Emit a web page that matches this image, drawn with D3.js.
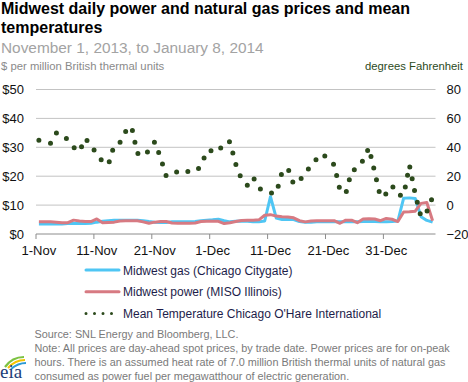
<!DOCTYPE html>
<html>
<head>
<meta charset="utf-8">
<script src="https://cdn.jsdelivr.net/npm/d3@7"></script>
<style>
  body { margin: 0; background: #fff; }
  text { font-family: "Liberation Sans", Arial, sans-serif; }
</style>
</head>
<body>
<script>
// daily values, Nov 1 2013 .. Jan 8 2014
const firstDay = new Date(2013, 10, 1);
const gas = [3.5, 3.5, 3.5, 3.5, 3.5, 3.6, 3.6, 3.6, 3.6, 3.7,
  4.1, 4.4, 4.6, 4.8, 4.8, 4.8, 4.8, 4.8, 4.6, 4.3,
  4.1, 4.0, 4.0, 4.2, 4.2, 4.2, 4.2, 4.3, 4.6, 4.8,
  4.9, 5.1, 4.6, 4.2, 4.4, 4.5, 4.4, 4.2, 4.2, 4.5,
  12.9, 5.5, 5.0, 5.0, 5.0, 4.3, 4.1, 4.1, 4.2, 4.2,
  4.2, 4.2, 4.2, 4.2, 4.2, 4.2, 4.3, 4.3, 4.3, 4.2,
  4.2, 4.3, 4.5, 12.4, 12.5, 12.3, 6.0, 4.7, 4.1];
const power = [4.2, 4.2, 4.2, 4.1, 3.9, 3.9, 4.8, 4.5, 4.3, 4.3,
  5.2, 3.9, 4.0, 4.1, 4.5, 4.6, 4.6, 4.6, 4.2, 3.7,
  4.1, 4.3, 4.3, 3.8, 3.7, 3.7, 3.7, 3.8, 4.3, 4.4,
  4.4, 4.4, 3.6, 3.9, 4.3, 4.7, 4.8, 4.8, 4.9, 6.5,
  6.7, 6.2, 6.0, 5.9, 5.6, 4.6, 4.2, 4.5, 4.6, 4.6,
  4.6, 4.6, 3.7, 4.8, 4.8, 3.9, 5.2, 5.3, 5.2, 4.6,
  5.4, 5.1, 4.3, 7.6, 7.7, 7.9, 10.6, 10.9, 4.6];
const temp = [44.8, 43.9, 42.8, 50.0, 49.1, 45.0, 40.0, 36.9, 46.2, 41.6,
  35.0, 30.3, 27.9, 41.4, 43.4, 51.0, 54.5, 35.9, 33.8, 37.8,
  43.8, 32.9, 20.0, 21.8, 23.3, 24.6, 22.8, 23.4, 26.9, 37.6,
  37.7, 36.8, 43.4, 43.8, 28.3, 17.9, 13.8, 19.3, 11.7, 9.3,
  8.3, 8.3, 22.8, 25.5, 14.5, 16.6, 22.6, 26.9, 32.1, 35.5,
  31.7, 27.9, 10.3, 7.9, 23.4, 25.5, 31.0, 39.7, 22.8, 5.5,
  7.9, 13.4, 6.9, 6.6, 27.6, 7.6, -8.3, -4.5, 5.5];
const priceTicks = [0, 10, 20, 30, 40, 50];
const tempTicks = [-20, 0, 20, 40, 60, 80];
const dateTicks = ["2013-11-01", "2013-11-11", "2013-11-21", "2013-12-01",
  "2013-12-11", "2013-12-21", "2013-12-31"];
const seriesNames = ["Midwest gas (Chicago Citygate)", "Midwest power (MISO Illinois)",
  "Mean Temperature Chicago O'Hare International"];

const W = 468, H = 382;
const plot = {left: 36, right: 435.5, top: 89.5, bottom: 234};
const gasColor = "#4fc6f4", powerColor = "#d77a82", tempColor = "#2c4a1c";

const svg = d3.select("body").append("svg")
  .attr("width", W).attr("height", H);

const days = gas.map((v, i) => d3.timeDay.offset(firstDay, i));
const mid = d => d3.timeHour.offset(d, 12);

const x = d3.scaleTime()
  .domain([firstDay, d3.timeDay.offset(firstDay, gas.length)])
  .range([plot.left, plot.right]);
const y = d3.scaleLinear().domain([0, 50]).range([plot.bottom, plot.top]);
const yT = d3.scaleLinear().domain([-20, 80]).range([plot.bottom, plot.top]);

// titles
svg.append("text").attr("x", 1).attr("y", 13.5)
  .style("font-size", "16px").style("font-weight", "bold").attr("fill", "#000")
  .text("Midwest daily power and natural gas prices and mean");
svg.append("text").attr("x", 1).attr("y", 32.5)
  .style("font-size", "16px").style("font-weight", "bold").attr("fill", "#000")
  .text("temperatures");
svg.append("text").attr("x", 1).attr("y", 52.5)
  .style("font-size", "15.4px").attr("fill", "#a3a3a3")
  .text("November 1, 2013, to January 8, 2014");
svg.append("text").attr("x", 1).attr("y", 70)
  .style("font-size", "11.3px").attr("fill", "#8a8a8a")
  .text("$ per million British thermal units");
svg.append("text").attr("x", 463).attr("y", 70).attr("text-anchor", "end")
  .style("font-size", "11.3px").attr("fill", "#2c4a1c")
  .text("degrees Fahrenheit");

// gridlines
svg.append("g")
  .selectAll("line").data(priceTicks.slice(1)).join("line")
  .attr("x1", plot.left).attr("x2", plot.right)
  .attr("y1", d => y(d)).attr("y2", d => y(d))
  .attr("stroke", "#c3c3c3").attr("stroke-width", 1);

// left axis
const gl = svg.append("g")
  .attr("transform", `translate(${plot.left},0)`)
  .call(d3.axisLeft(y).tickValues(priceTicks).tickSize(0).tickPadding(12)
    .tickFormat(d => "$" + d));
gl.select(".domain").remove();
gl.selectAll("text").style("font-size", "13px").attr("fill", "#111")
  .style("font-family", "'Liberation Sans', Arial, sans-serif");

// right axis
const gr = svg.append("g")
  .attr("transform", `translate(${plot.right},0)`)
  .call(d3.axisRight(yT).tickValues(tempTicks).tickSize(0).tickPadding(11));
gr.select(".domain").remove();
gr.selectAll("text").style("font-size", "13px").attr("fill", "#111")
  .style("font-family", "'Liberation Sans', Arial, sans-serif");

// bottom axis: ticks at day edges, labels at day centres
const tickDates = dateTicks.map(s => d3.timeParse("%Y-%m-%d")(s));
const gb = svg.append("g").attr("transform", `translate(0,${plot.bottom})`);
gb.append("line").attr("x1", plot.left).attr("x2", plot.right)
  .attr("stroke", "#8c8c8c").attr("stroke-width", 1);
gb.selectAll("line.tk").data(tickDates).join("line").attr("class", "tk")
  .attr("x1", d => x(d)).attr("x2", d => x(d)).attr("y1", 0).attr("y2", 5)
  .attr("stroke", "#8c8c8c");
gb.selectAll("text").data(tickDates).join("text")
  .attr("x", d => x(mid(d))).attr("y", 21).attr("text-anchor", "middle")
  .style("font-size", "13px").attr("fill", "#111")
  .text(d3.timeFormat("%-d-%b"));

// series
const lineP = d3.line().x((d, i) => x(mid(days[i]))).y(d => y(d));
const lineT = d3.line().x((d, i) => x(mid(days[i]))).y(d => yT(d));

svg.append("path").attr("d", lineP(gas))
  .attr("fill", "none").attr("stroke", gasColor).attr("stroke-width", 3)
  .attr("stroke-linejoin", "round");
svg.append("path").attr("d", lineP(power))
  .attr("fill", "none").attr("stroke", powerColor).attr("stroke-width", 3)
  .attr("stroke-linejoin", "round");
svg.append("path").attr("d", lineT(temp))
  .attr("fill", "none").attr("stroke", tempColor).attr("stroke-width", 5)
  .attr("stroke-linecap", "round").attr("stroke-dasharray", "0 12");

// legend
const lg = svg.append("g").attr("transform", "translate(85,270)");
const styles = [
  {c: gasColor, w: 3, dash: null},
  {c: powerColor, w: 3, dash: null},
  {c: tempColor, w: 3, dash: "0 8.5"}];
seriesNames.forEach((name, i) => {
  const row = lg.append("g").attr("transform", `translate(0,${i * 21.7})`);
  row.append("line").attr("x1", 1).attr("x2", 34)
    .attr("stroke", styles[i].c).attr("stroke-width", styles[i].w)
    .attr("stroke-linecap", "round")
    .attr("stroke-dasharray", styles[i].dash);
  row.append("text").attr("x", 38).attr("y", 4.5)
    .style("font-size", "12px").attr("fill", "#1d1d4a").text(name);
});

// footer
const notes = ["Source:  SNL Energy and Bloomberg, LLC.",
  "Note: All prices are day-ahead spot prices, by trade date. Power prices are for on-peak",
  "hours. There is an assumed heat rate of 7.0 million British thermal units of natural gas",
  "consumed as power fuel per megawatthour of electric generation."];
svg.append("g").selectAll("text").data(notes).join("text")
  .attr("x", 34.5).attr("y", (d, i) => 337.5 + i * 14.1)
  .style("font-size", "10.85px").attr("fill", "#7a7a7a").text(d => d);

// eia logo
const logo = svg.append("g");
logo.append("path").attr("d", "M5,367 Q12,357 24,357").attr("fill", "none")
  .attr("stroke", "#7cc242").attr("stroke-width", 2.2);
logo.append("path").attr("d", "M8,368 Q15,360 25,360").attr("fill", "none")
  .attr("stroke", "#f5c400").attr("stroke-width", 2);
logo.append("path").attr("d", "M11,369 Q18,363 26,363").attr("fill", "none")
  .attr("stroke", "#2d9bd6").attr("stroke-width", 2);
logo.append("text").attr("x", 0).attr("y", 377.5)
  .style("font-family", "'Liberation Serif', serif").style("font-size", "19px")
  .attr("fill", "#1c3e78").text("eia");
</script>
</body>
</html>
